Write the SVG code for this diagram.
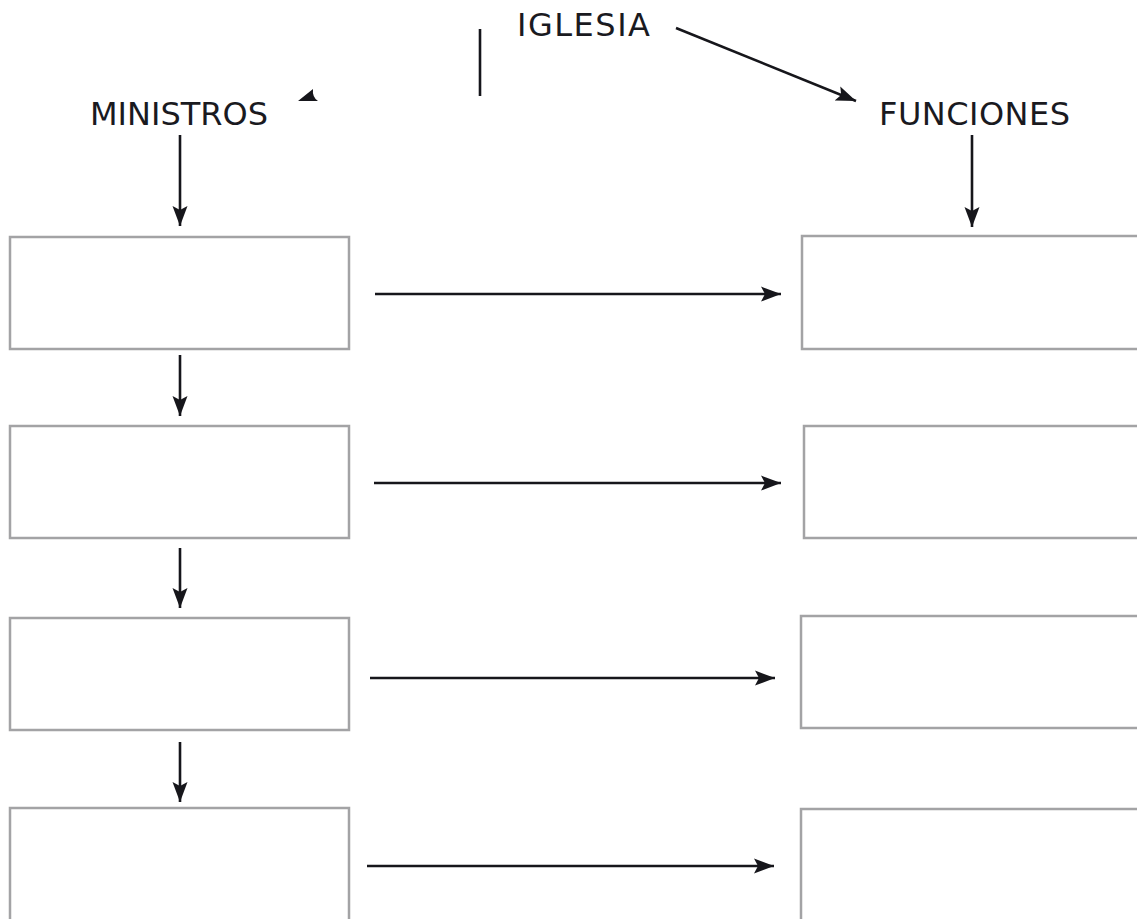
<svg xmlns="http://www.w3.org/2000/svg" width="1137" height="919" viewBox="0 0 1137 919">
<style>
.box{fill:#fff;stroke:#a3a3a5;stroke-width:2.5}
.lbl{font-family:"DejaVu Sans","Verdana",sans-serif;font-size:32px;fill:#1a1a1f}
.ln{stroke:#16161b;stroke-width:2.6;fill:none}
.ar{stroke:#16161b;stroke-width:2.6;fill:none;marker-end:url(#ah)}
</style>
<defs>
<marker id="ah" markerUnits="userSpaceOnUse" markerWidth="22" markerHeight="18" viewBox="0 0 22 18" refX="20" refY="9" orient="auto">
<path d="M0,1.5 L20,9 L0,16.5 L4,9 Z" fill="#16161b"/>
</marker>
</defs>
<rect width="1137" height="919" fill="#fff"/>
<g id="iglesia"><text class="lbl" x="517" y="36" textLength="133" lengthAdjust="spacing">IGLESIA</text></g>
<g id="ministros"><text class="lbl" x="90" y="125" textLength="178" lengthAdjust="spacing">MINISTROS</text></g>
<g id="funciones"><text class="lbl" x="879" y="125" textLength="191" lengthAdjust="spacing">FUNCIONES</text></g>
<g id="m1"><rect class="box" x="10" y="237" width="339" height="112"/></g>
<g id="m2"><rect class="box" x="10" y="426" width="339" height="112"/></g>
<g id="m3"><rect class="box" x="10" y="618" width="339" height="112"/></g>
<g id="m4"><rect class="box" x="10" y="808" width="339" height="140"/></g>
<g id="f1"><rect class="box" x="802" y="236" width="360" height="113"/></g>
<g id="f2"><rect class="box" x="804" y="426" width="360" height="112"/></g>
<g id="f3"><rect class="box" x="801" y="616" width="360" height="112"/></g>
<g id="f4"><rect class="box" x="801" y="809" width="360" height="140"/></g>
<g id="connectors">
<line class="ln" x1="480" y1="29" x2="480" y2="96"/>
<path d="M298,101 L313,89 Q312,97 318,101 Z" fill="#16161b"/>
<line class="ar" x1="676" y1="28" x2="856" y2="101"/>
<line class="ar" x1="180" y1="135" x2="180" y2="226"/>
<line class="ar" x1="972" y1="135" x2="972" y2="227"/>
<line class="ar" x1="180" y1="355" x2="180" y2="416"/>
<line class="ar" x1="180" y1="548" x2="180" y2="608"/>
<line class="ar" x1="180" y1="742" x2="180" y2="802"/>
<line class="ar" x1="375" y1="294" x2="781" y2="294"/>
<line class="ar" x1="374" y1="483" x2="781" y2="483"/>
<line class="ar" x1="370" y1="678" x2="775" y2="678"/>
<line class="ar" x1="367" y1="866" x2="774" y2="866"/>
</g>
</svg>
